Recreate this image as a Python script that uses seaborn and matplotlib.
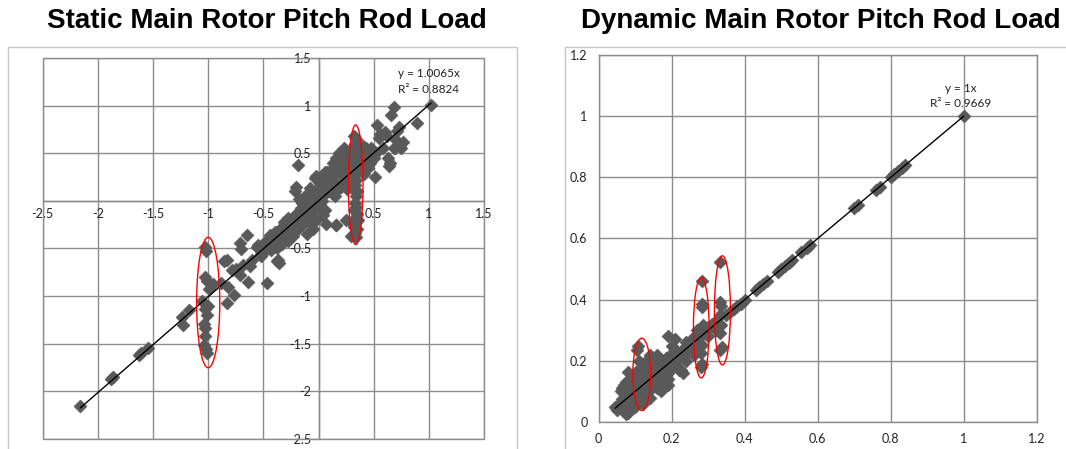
import numpy as np
import pandas as pd
import matplotlib
matplotlib.use("Agg")
import matplotlib.pyplot as plt
import seaborn as sns
from matplotlib.patches import Ellipse, Rectangle

# ---------------- data ----------------
static_x = [
    -2.16, -1.88, -1.86, -1.63, -1.61, -1.55, -1.24, -1.23, -1.17,
    -1.03, -1.02, -1.03, -1.01, -0.96, -0.99, -1.06, -1.03, -1.00, -1.01, -1.04, -1.03, -1.03, -1.04, -1.02, -1.01,
    -0.83, -0.86, -0.82, -0.77, -0.83, -0.88, -0.75, -0.71, -0.71, -0.70, -0.65, -0.64, -0.56, -0.52, -0.47, -0.62, -0.60, -0.68, -0.78, -0.55, -0.37,
    -0.55, -0.52, -0.50, -0.48, -0.46, -0.45, -0.43, -0.42, -0.40, -0.39, -0.38, -0.36, -0.35, -0.34, -0.33, -0.32, -0.30, -0.29, -0.28, -0.27,
    -0.26, -0.25, -0.24, -0.23, -0.22, -0.21, -0.20, -0.19, -0.18, -0.17, -0.16, -0.15, -0.14, -0.13, -0.12, -0.11, -0.10, -0.09, -0.08, -0.07,
    -0.06, -0.05, -0.04, -0.03, -0.02, -0.01, 0.00, 0.01, 0.02, 0.03, 0.04, 0.05, 0.06, 0.07,
    -0.38, -0.36, -0.20, -0.21, -0.185, -0.10, -0.05, -0.02, 0.07, 0.16, 0.25, 0.10, -0.03, 0.01, -0.02,
    0.32, 0.34, 0.33, 0.35, 0.31, 0.34, 0.33, 0.36, 0.32, 0.34, 0.33, 0.35, 0.31, 0.34, 0.33, 0.30, 0.35, 0.34,
    0.33, 0.34, 0.32, 0.35, 0.33, 0.34, 0.32, 0.35, 0.33, 0.34, 0.31, 0.36,
    0.10, 0.12, 0.14, 0.15, 0.17, 0.18, 0.20, 0.21, 0.22, 0.24, 0.25, 0.26, 0.27, 0.28, 0.23, 0.19, 0.16, 0.29, 0.13, 0.11, 0.08, 0.06, 0.09, 0.05, 0.24, 0.28, 0.26,
    0.38, 0.40, 0.42, 0.45, 0.43, 0.38, 0.40, 0.47, 0.50, 0.52, 0.48, 0.45, 0.41, 0.51, 0.55, 0.58, 0.56, 0.60, 0.63, 0.65, 0.64,
    0.69, 0.70, 0.71, 0.73, 0.77, 0.75, 0.68, 0.53, 0.68, 0.66, 0.89, 1.02, 0.62, 0.163, 0.299,
    -0.44, -0.41, -0.31, -0.25, -0.15, -0.12, -0.08, 0.02, 0.04, -0.28, -0.33, -0.18, 0.08, 0.12, 0.18, 0.20, 0.15,
]
static_y = [
    -2.15, -1.87, -1.85, -1.62, -1.60, -1.54, -1.22, -1.30, -1.15,
    -0.48, -0.53, -0.80, -0.84, -0.87, -0.92, -1.05, -1.13, -1.10, -1.20, -1.29, -1.33, -1.42, -1.51, -1.56, -1.60,
    -0.62, -0.63, -0.90, -0.99, -1.07, -0.86, -0.72, -0.78, -0.44, -0.51, -0.36, -0.85, -0.48, -0.58, -0.86, -0.68, -0.62, -0.67, -0.73, -0.46, -0.62,
    -0.50, -0.56, -0.45, -0.52, -0.40, -0.47, -0.52, -0.38, -0.44, -0.33, -0.50, -0.40, -0.30, -0.37, -0.45, -0.27, -0.35, -0.30, -0.42, -0.22,
    -0.33, -0.28, -0.20, -0.37, -0.25, -0.15, -0.22, -0.30, -0.12, -0.20, -0.08, -0.25, -0.15, -0.05, -0.18, -0.10, 0.00, -0.22, -0.08, 0.05,
    -0.12, -0.02, 0.08, -0.05, 0.02, 0.12, -0.08, 0.05, 0.15, 0.00, 0.10, 0.20, -0.10, 0.08,
    -0.63, -0.65, 0.15, 0.10, 0.38, -0.35, -0.30, -0.20, -0.24, -0.25, -0.20, 0.22, 0.24, 0.19, 0.26,
    0.68, 0.65, 0.60, 0.57, 0.55, 0.52, 0.48, 0.45, 0.42, 0.38, 0.35, 0.30, 0.27, 0.22, 0.17, 0.14, 0.10, 0.05,
    -0.02, -0.06, -0.10, -0.14, -0.18, -0.22, -0.27, -0.30, -0.34, -0.38, -0.24, -0.20,
    0.18, 0.25, 0.30, 0.20, 0.35, 0.42, 0.28, 0.48, 0.38, 0.45, 0.32, 0.52, 0.40, 0.30, 0.55, 0.50, 0.45, 0.47, 0.40, 0.32, 0.22, 0.30, 0.10, 0.13, 0.22, 0.20, 0.12,
    0.35, 0.42, 0.38, 0.47, 0.55, 0.50, 0.58, 0.40, 0.45, 0.50, 0.55, 0.35, 0.28, 0.25, 0.66, 0.55, 0.70, 0.72, 0.45, 0.40, 0.37,
    0.55, 0.64, 0.73, 0.78, 0.62, 0.55, 0.55, 0.80, 0.99, 0.90, 0.82, 1.01, 0.68, -0.25, -0.37,
    -0.36, -0.48, -0.22, -0.35, -0.02, 0.05, 0.14, 0.22, -0.15, -0.18, -0.28, 0.02, 0.30, 0.08, 0.12, 0.15, 0.05,
]

dynamic_x = [
    0.045, 0.05, 0.055, 0.06, 0.065, 0.07, 0.07, 0.075, 0.08, 0.08, 0.085, 0.09, 0.09, 0.095, 0.10, 0.10, 0.105, 0.11, 0.11,
    0.115, 0.12, 0.12, 0.125, 0.13, 0.13, 0.135, 0.14, 0.14, 0.145, 0.15, 0.15, 0.155, 0.16, 0.16, 0.165, 0.17, 0.17, 0.175,
    0.18, 0.18, 0.185, 0.19, 0.19, 0.195, 0.20, 0.205, 0.21, 0.215, 0.22, 0.225, 0.23, 0.235, 0.24, 0.245, 0.25, 0.255, 0.26,
    0.265, 0.27, 0.275, 0.29, 0.30, 0.30, 0.31, 0.32, 0.32,
    0.08, 0.06, 0.07, 0.09, 0.10, 0.13, 0.14, 0.15, 0.16, 0.12, 0.19, 0.20, 0.21, 0.22, 0.23, 0.19, 0.17, 0.16, 0.14, 0.12, 0.10, 0.08, 0.075,
    0.108, 0.106, 0.11, 0.112, 0.11, 0.108,
    0.282, 0.282, 0.283, 0.287, 0.28, 0.282, 0.28, 0.282, 0.28, 0.29,
    0.332, 0.332, 0.335, 0.332, 0.335, 0.333, 0.337, 0.332,
    0.35, 0.36, 0.37, 0.38, 0.39, 0.40, 0.43, 0.44, 0.45, 0.46, 0.49, 0.50, 0.51, 0.52, 0.53, 0.555, 0.57, 0.58,
    0.70, 0.71, 0.76, 0.77, 0.80, 0.81, 0.82, 0.83, 0.84, 1.00,
    0.065, 0.075, 0.085, 0.095, 0.105, 0.125, 0.135, 0.145, 0.155, 0.165, 0.175, 0.185, 0.195, 0.205, 0.215, 0.225, 0.24, 0.26, 0.27,
]
dynamic_y = [
    0.048, 0.04, 0.06, 0.05, 0.075, 0.035, 0.06, 0.09, 0.07, 0.045, 0.10, 0.08, 0.055, 0.12, 0.09, 0.065, 0.14, 0.10, 0.075,
    0.125, 0.11, 0.085, 0.15, 0.12, 0.095, 0.17, 0.13, 0.105, 0.19, 0.15, 0.12, 0.20, 0.16, 0.13, 0.18, 0.15, 0.20, 0.17,
    0.13, 0.19, 0.21, 0.16, 0.14, 0.20, 0.18, 0.22, 0.19, 0.23, 0.21, 0.17, 0.24, 0.22, 0.26, 0.23, 0.25, 0.27, 0.24,
    0.28, 0.26, 0.29, 0.30, 0.28, 0.31, 0.32, 0.30, 0.33,
    0.165, 0.10, 0.12, 0.14, 0.16, 0.20, 0.22, 0.21, 0.22, 0.18, 0.28, 0.25, 0.27, 0.17, 0.16, 0.12, 0.10, 0.11, 0.08, 0.06, 0.05, 0.03, 0.025,
    0.25, 0.235, 0.20, 0.175, 0.13, 0.10,
    0.46, 0.385, 0.375, 0.317, 0.28, 0.253, 0.225, 0.19, 0.18, 0.29,
    0.524, 0.393, 0.38, 0.35, 0.317, 0.29, 0.246, 0.235,
    0.35, 0.36, 0.37, 0.38, 0.385, 0.40, 0.43, 0.44, 0.45, 0.46, 0.49, 0.50, 0.51, 0.52, 0.53, 0.555, 0.57, 0.58,
    0.70, 0.71, 0.76, 0.77, 0.80, 0.81, 0.82, 0.83, 0.84, 1.00,
    0.11, 0.13, 0.12, 0.15, 0.12, 0.14, 0.18, 0.16, 0.17, 0.14, 0.19, 0.17, 0.22, 0.20, 0.18, 0.22, 0.20, 0.22, 0.30,
]

static_slope = 1.0065
dynamic_slope = 1.0
static_eq = ["y = 1.0065x", "R\u00b2 = 0.8824"]
dynamic_eq = ["y = 1x", "R\u00b2 = 0.9669"]

static_ticks = [-2.5, -2.0, -1.5, -1.0, -0.5, 0.0, 0.5, 1.0, 1.5]
static_ticklabels = ["-2.5", "-2", "-1.5", "-1", "-0.5", "0", "0.5", "1", "1.5"]
dynamic_ticks = [0.0, 0.2, 0.4, 0.6, 0.8, 1.0, 1.2]
dynamic_ticklabels = ["0", "0.2", "0.4", "0.6", "0.8", "1", "1.2"]

# highlighted groups (centre x, centre y, width, height)
static_ellipses = [(-1.0, -1.067, 0.21, 1.37), (0.337, 0.17, 0.133, 1.255)]
dynamic_ellipses = [(0.118, 0.156, 0.049, 0.236), (0.281, 0.308, 0.043, 0.328), (0.339, 0.365, 0.044, 0.357)]

titles = ["Static Main Rotor Pitch Rod Load", "Dynamic Main Rotor Pitch Rod Load"]

# ---------------- style ----------------
sns.set_theme(style="white")
plt.rcParams['font.family'] = ['Lato', 'DejaVu Sans']

W, H = 1066, 449
fig = plt.figure(figsize=(W / 100, H / 100), dpi=100)
fig.patch.set_facecolor("white")

GRID = "#8c8c8c"
MARK = "#595959"
FRAME = "#c8c8c8"
TICKFS = 9
EQFS = 8.5
MS = 45

# chart-area frames
fig.add_artist(Rectangle((8 / W, -0.05), (517 - 8) / W, (449 - 47) / H + 0.05,
                         transform=fig.transFigure, fill=False, ec=FRAME, lw=1))
fig.add_artist(Rectangle((565 / W, -0.05), 0.6, (449 - 47) / H + 0.05,
                         transform=fig.transFigure, fill=False, ec=FRAME, lw=1))

title_font = dict(family=['Liberation Sans', 'DejaVu Sans'],
                  fontsize=20, fontweight='bold', color='black')
fig.text(267 / W, 1 - 21 / H, titles[0], ha='center', va='center', **title_font)
fig.text(821 / W, 1 - 21 / H, titles[1], ha='center', va='center', **title_font)

# ---------------- static panel ----------------
ax1 = fig.add_axes([42.7 / W, 1 - 439 / H, 441.3 / W, 381 / H])
df1 = pd.DataFrame({"x": static_x, "y": static_y})
sns.scatterplot(data=df1, x="x", y="y", ax=ax1, marker="D", s=MS, color=MARK,
                edgecolor=MARK, linewidth=0.3, zorder=3)
x0, x1 = min(static_x), max(static_x)
sns.lineplot(x=[x0, x1], y=[static_slope * x0, static_slope * x1], ax=ax1,
             color="black", lw=1, zorder=4)
for cx, cy, w, h in static_ellipses:
    ax1.add_patch(Ellipse((cx, cy), w, h, fill=False, ec="red", lw=1, zorder=5))
ax1.set_xlim(-2.5, 1.5)
ax1.set_ylim(-2.5, 1.5)
ax1.set_xticks(static_ticks)
ax1.set_xticklabels(static_ticklabels)
ax1.set_yticks(static_ticks)
ax1.set_yticklabels(static_ticklabels)
ax1.spines['left'].set_position(('data', 0))
ax1.spines['bottom'].set_position(('data', 0))
for s in ['left', 'bottom']:
    ax1.spines[s].set_color(GRID)
    ax1.spines[s].set_linewidth(1)
for s in ['top', 'right']:
    ax1.spines[s].set_visible(False)
ax1.add_patch(Rectangle((0, 0), 1, 1, transform=ax1.transAxes, fill=False, ec=GRID, lw=1, clip_on=False, zorder=2))
ax1.grid(True, color=GRID, lw=1)
ax1.set_axisbelow(True)
ax1.tick_params(axis='both', length=0, labelsize=TICKFS, colors='#222222', pad=5)
ax1.set_xlabel("")
ax1.set_ylabel("")
ax1.text(1.0, 1.34, static_eq[0], ha='center', va='center', fontsize=EQFS, color='#222222')
ax1.text(1.0, 1.17, static_eq[1], ha='center', va='center', fontsize=EQFS, color='#222222')
ax1.set_facecolor("white")

# ---------------- dynamic panel ----------------
ax2 = fig.add_axes([598.7 / W, 1 - 422 / H, 438 / W, 367 / H])
df2 = pd.DataFrame({"x": dynamic_x, "y": dynamic_y})
sns.scatterplot(data=df2, x="x", y="y", ax=ax2, marker="D", s=MS, color=MARK,
                edgecolor=MARK, linewidth=0.3, zorder=3)
d0, d1 = min(dynamic_x), max(dynamic_x)
sns.lineplot(x=[d0, d1], y=[dynamic_slope * d0, dynamic_slope * d1], ax=ax2,
             color="black", lw=1, zorder=4)
for cx, cy, w, h in dynamic_ellipses:
    ax2.add_patch(Ellipse((cx, cy), w, h, fill=False, ec="red", lw=1, zorder=5))
ax2.set_xlim(0, 1.2)
ax2.set_ylim(0, 1.2)
ax2.set_xticks(dynamic_ticks)
ax2.set_xticklabels(dynamic_ticklabels)
ax2.set_yticks(dynamic_ticks)
ax2.set_yticklabels(dynamic_ticklabels)
for s in ax2.spines.values():
    s.set_color(GRID)
    s.set_linewidth(1)
ax2.grid(True, color=GRID, lw=1)
ax2.set_axisbelow(True)
ax2.tick_params(axis='both', length=0, labelsize=TICKFS, colors='#222222', pad=8)
ax2.set_xlabel("")
ax2.set_ylabel("")
ax2.text(0.992, 1.091, dynamic_eq[0], ha='center', va='center', fontsize=EQFS, color='#222222')
ax2.text(0.992, 1.040, dynamic_eq[1], ha='center', va='center', fontsize=EQFS, color='#222222')
ax2.set_facecolor("white")

fig.savefig("out.png", dpi=100, facecolor="white")
